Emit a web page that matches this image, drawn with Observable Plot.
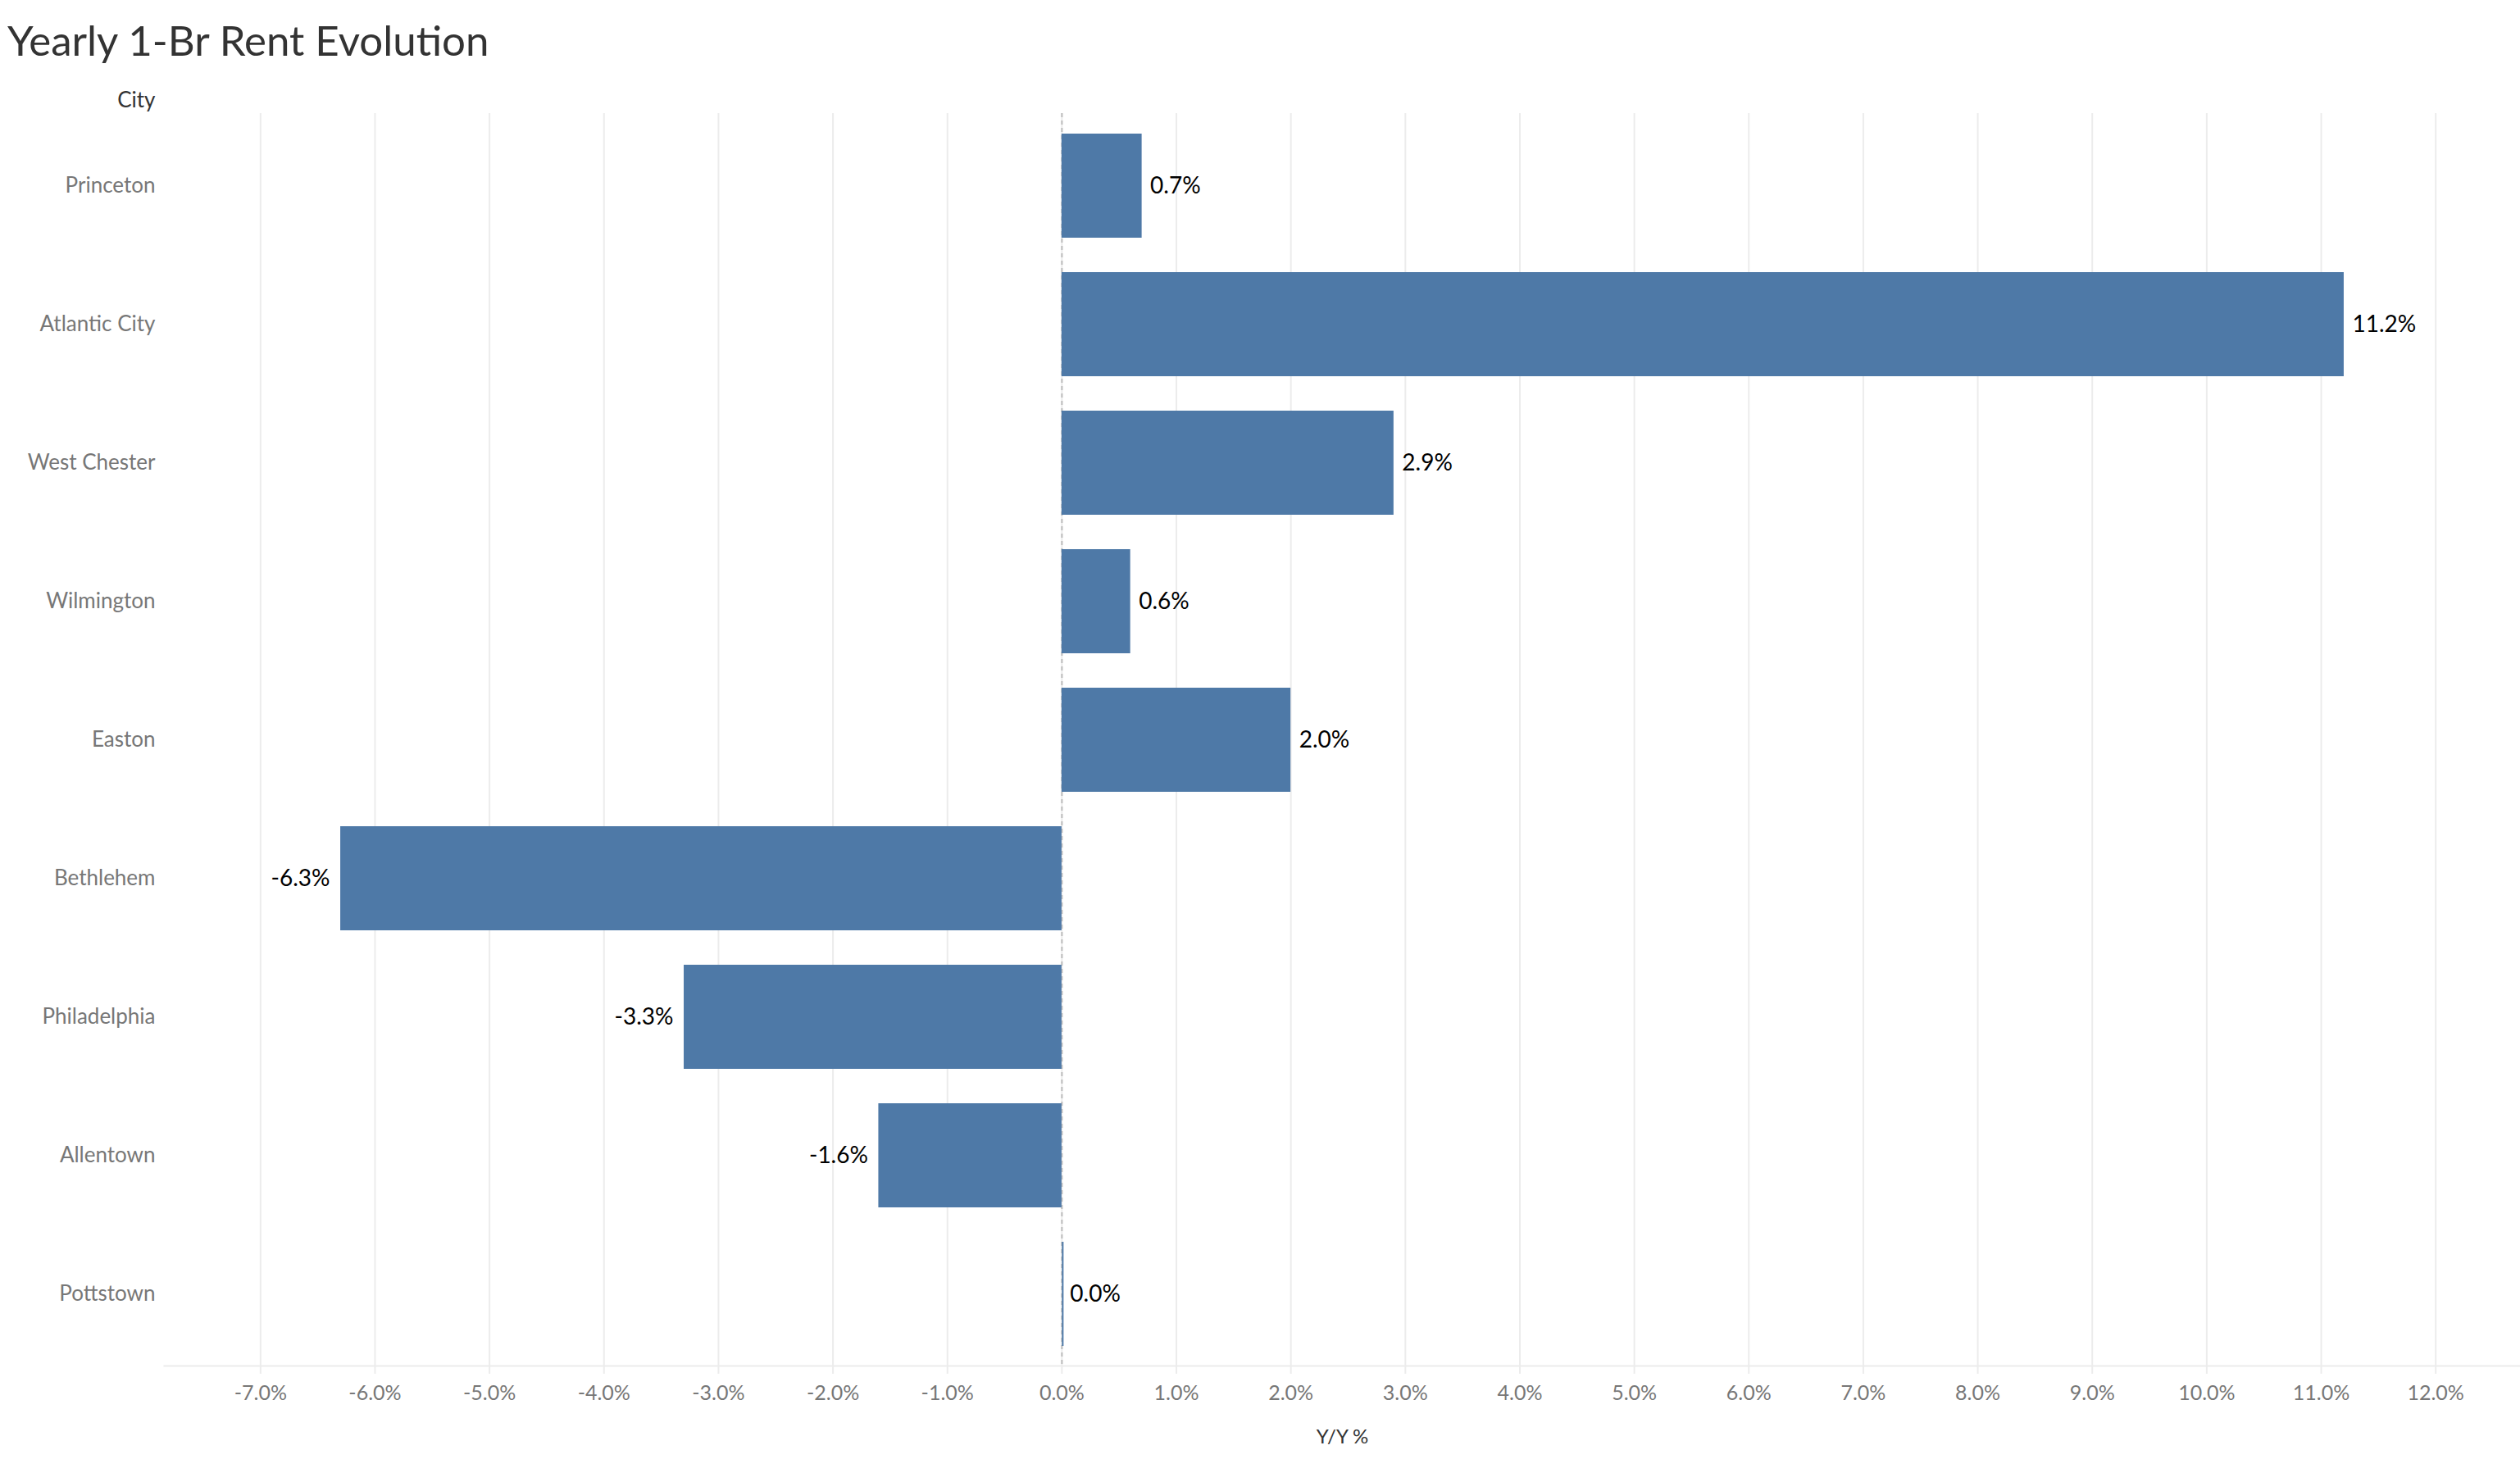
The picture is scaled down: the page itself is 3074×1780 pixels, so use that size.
<!DOCTYPE html>
<html>
<head>
<meta charset="utf-8">
<script src="https://cdn.jsdelivr.net/npm/d3@7"></script>
<script src="https://cdn.jsdelivr.net/npm/@observablehq/plot@0.6"></script>
<style>
  html, body { margin: 0; padding: 0; background: #fff; }
  #title { position: relative; height: 90px; }
  #title span { position: absolute; left: 9px; top: 23px; font-family: Lato, sans-serif; font-size: 51px; line-height: 1; color: #333; white-space: nowrap; }
  #chart svg { display: block; }
</style>
</head>
<body>
<div id="title"><span>Yearly 1-Br Rent Evolution</span></div>
<div id="chart"></div>
<script>
const cities = ["Princeton", "Atlantic City", "West Chester", "Wilmington", "Easton", "Bethlehem", "Philadelphia", "Allentown", "Pottstown"];
const changes = [0.7, 11.2, 2.9, 0.6, 2.0, -6.3, -3.3, -1.6, 0.0];
const xTicks = [-7, -6, -5, -4, -3, -2, -1, 0, 1, 2, 3, 4, 5, 6, 7, 8, 9, 10, 11, 12];
const yTitle = "City";
const xTitle = "Y/Y %";

const data = cities.map((c, i) => ({city: c, value: changes[i]}));
const fmt = v => v.toFixed(1) + "%";
const barColor = "#4e79a7";

const plot = Plot.plot({
  width: 3074,
  height: 1690,
  marginLeft: 200,
  marginRight: 0,
  marginTop: 48,
  marginBottom: 114,
  style: {fontFamily: "Lato, sans-serif", fontSize: "26px", background: "#fff"},
  x: {domain: [-7.84, 12.74]},
  y: {domain: cities, padding: 0},
  marks: [
    Plot.gridX({ticks: xTicks, stroke: "#ececec", strokeOpacity: 1, strokeWidth: 2}),
    Plot.frame({anchor: "bottom", stroke: "#ececec", strokeWidth: 2}),
    Plot.axisX({ticks: xTicks, tickSize: 10, tickPadding: 14, tickFormat: fmt, stroke: "#ececec", strokeWidth: 2, fill: "#777", fontSize: 25, label: null}),
    Plot.axisY({tickSize: 0, tickPadding: 11, fill: "#777", fontSize: 26, label: null}),
    Plot.ruleX([0], {stroke: "#bdbdbd", strokeWidth: 2, strokeDasharray: "5,4"}),
    Plot.barX(data, {x: "value", y: "city", fill: barColor, insetTop: 21, insetBottom: 21}),
    Plot.tickX(data.filter(d => d.value === 0), {x: "value", y: "city", stroke: barColor, strokeWidth: 2, dx: 1, insetTop: 21, insetBottom: 21}),
    Plot.text(data.filter(d => d.value >= 0), {x: "value", y: "city", text: d => fmt(d.value), textAnchor: "start", dx: 10, fill: "#000", fontSize: 28}),
    Plot.text(data.filter(d => d.value < 0), {x: "value", y: "city", text: d => fmt(d.value), textAnchor: "end", dx: -13, fill: "#000", fontSize: 28}),
    Plot.text([yTitle], {frameAnchor: "top-left", textAnchor: "end", dx: -11, dy: -26, fill: "#333", fontSize: 26}),
    Plot.text([xTitle], {frameAnchor: "bottom", dy: 94, fill: "#333", fontSize: 24})
  ]
});
document.getElementById("chart").appendChild(plot);
</script>
</body>
</html>
